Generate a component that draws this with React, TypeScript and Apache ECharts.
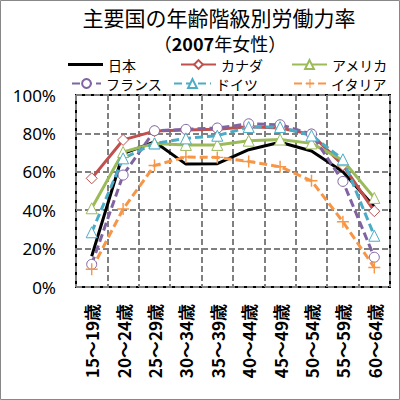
import React, { useEffect, useRef } from "react";
import * as echarts from "echarts";

const categories = ["15～19歳", "20～24歳", "25～29歳", "30～34歳", "35～39歳", "40～44歳", "45～49歳", "50～54歳", "55～59歳", "60～64歳"];
const yTicks = [0, 20, 40, 60, 80, 100];

const japan = [16.0, 69.5, 75.6, 64.0, 64.2, 71.5, 75.4, 70.8, 60.0, 41.8];
const canada = [56.6, 76.6, 81.2, 81.8, 82.2, 83.5, 82.8, 79.5, 63.5, 39.5];
const usa = [41.0, 70.3, 74.8, 74.0, 74.0, 76.2, 76.8, 74.8, 66.0, 46.4];
const france = [11.8, 58.3, 81.4, 82.1, 82.8, 85.0, 84.5, 79.7, 55.0, 15.5];
const germany = [28.5, 67.0, 74.8, 77.4, 78.8, 83.3, 83.3, 78.9, 66.5, 26.7];
const italy = [9.2, 40.6, 63.3, 67.7, 67.5, 65.4, 62.6, 55.3, 34.0, 10.2];

const seriesNames = ["日本", "カナダ", "アメリカ", "フランス", "ドイツ", "イタリア"];

const JP = "'Noto Sans CJK JP', 'Noto Sans', sans-serif";
const PLUS = "path://M4.4,0H5.6V4.4H10V5.6H5.6V10H4.4V5.6H0V4.4H4.4Z";

export default function App() {
  const ref = useRef<HTMLDivElement>(null);
  useEffect(() => {
    if (!ref.current) return;
    const chart = echarts.init(ref.current, undefined, { renderer: "svg" });

    const legendPos = [
      { left: 68, top: 57, w: 35 },
      { left: 180, top: 57, w: 35 },
      { left: 291, top: 57, w: 35 },
      { left: 71, top: 76, w: 29 },
      { left: 173, top: 76, w: 37 },
      { left: 293, top: 76, w: 32 },
    ];

    const mk = (
      name: string,
      data: number[],
      color: string,
      dashed: boolean,
      symbol: string,
      symbolSize: number,
      markerColor: string,
      filled: boolean
    ) => ({
      name,
      type: "line",
      data,
      symbol,
      symbolSize,
      showSymbol: symbol !== "none",
      lineStyle: { color, width: 3, type: dashed ? [8, 4] : "solid" },
      itemStyle: filled
        ? { color: markerColor, borderWidth: 0 }
        : { color: "#ffffff", borderColor: markerColor, borderWidth: 1 },
      color,
      emphasis: { disabled: true },
    });

    chart.setOption({
      animation: false,
      backgroundColor: "#ffffff",
      graphic: [
        {
          type: "rect",
          shape: { x: 0.5, y: 0.5, width: 399, height: 399 },
          style: { fill: "none", stroke: "#888888", lineWidth: 1 },
        },
        {
          type: "text",
          style: {
            text: "主要国の年齢階級別労働力率",
            x: 219,
            y: 17,
            textAlign: "center",
            textVerticalAlign: "middle",
            fontSize: 21,
            fontFamily: JP,
            fill: "#000",
          },
        },
        {
          type: "text",
          style: {
            text: "{a|（}{b|2007}{a|年女性）}",
            x: 220,
            y: 43,
            textAlign: "center",
            textVerticalAlign: "middle",
            fill: "#000",
            rich: {
              a: { fontSize: 18, fontFamily: JP, fill: "#000" },
              b: { fontSize: 18, fontFamily: JP, fontWeight: "bold", fill: "#000" },
            },
          },
        },
      ],
      legend: seriesNames.map((n, i) => ({
        data: i === 0 ? [{ name: n, icon: "rect", itemStyle: { color: "#000", borderWidth: 0 } }] : [n],
        left: legendPos[i].left,
        top: legendPos[i].top,
        itemWidth: legendPos[i].w,
        itemHeight: i === 0 ? 3 : 11,
        padding: 0,
        selectedMode: false,
        textStyle: { fontSize: 14, lineHeight: 15, fontFamily: JP, color: "#000" },
      })),
      grid: {
        left: 76,
        right: 10,
        top: 95,
        bottom: 113,
        show: true,
        borderColor: "#000",
        borderWidth: 2,
        backgroundColor: "transparent",
      },
      xAxis: {
        type: "category",
        data: categories,
        boundaryGap: true,
        axisLine: { show: false },
        axisTick: { show: false },
        splitLine: {
          show: true,
          interval: 0,
          lineStyle: { color: "#808080", width: 2, type: [6, 3] },
        },
        axisLabel: {
          rotate: 90,
          interval: 0,
          margin: 17,
          fontSize: 17,
          fontWeight: "bold",
          fontFamily: JP,
          color: "#000",
        },
      },
      yAxis: {
        type: "value",
        min: yTicks[0],
        max: yTicks[yTicks.length - 1],
        interval: 20,
        axisLine: { show: false },
        axisTick: { show: false },
        splitLine: {
          show: true,
          lineStyle: { color: "#808080", width: 2, type: [6, 3] },
        },
        axisLabel: {
          formatter: "{value}%",
          margin: 20,
          fontSize: 17,
          fontFamily: "'Noto Sans', sans-serif",
          color: "#000",
        },
      },
      series: [
        mk(seriesNames[0], japan, "#000000", false, "none", 0, "#000000", false),
        mk(seriesNames[1], canada, "#C0504D", false, "diamond", 11, "#C0504D", false),
        mk(seriesNames[2], usa, "#9BBB59", false, "triangle", 11, "#9BBB59", false),
        mk(seriesNames[3], france, "#8064A2", true, "circle", 10, "#8064A2", false),
        mk(seriesNames[4], germany, "#4BACC6", true, "triangle", 11, "#4BACC6", false),
        mk(seriesNames[5], italy, "#F79646", true, PLUS, 12, "#F79646", true),
      ],
    });
    return () => chart.dispose();
  }, []);
  return (
    <div
      ref={ref}
      style={{ position: "absolute", left: 0, top: 0, width: 400, height: 400 }}
    />
  );
}
